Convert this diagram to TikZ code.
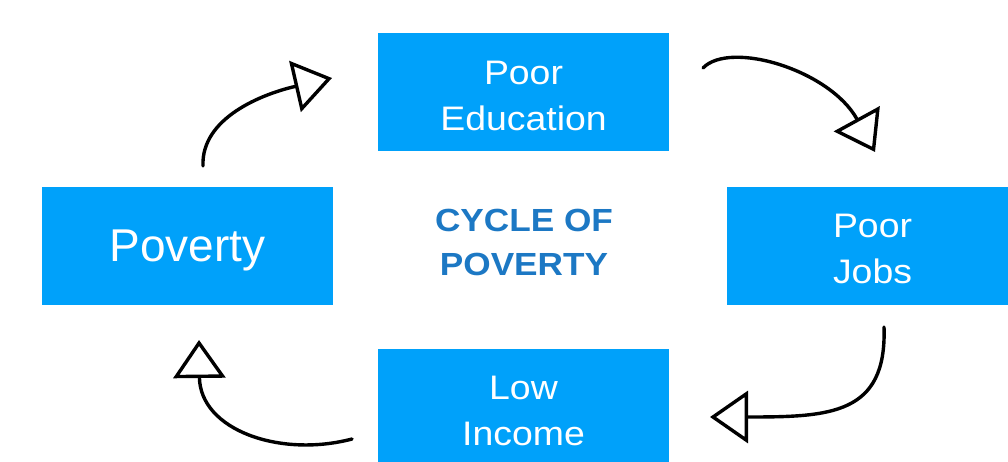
\documentclass[tikz,border=0pt]{standalone}
\usepackage{fontspec}
\setmainfont{Liberation Sans}
\newfontfamily\labelfont[FakeStretch=1.1]{Liberation Sans}
\newfontfamily\titlefont[FakeStretch=1.1]{Liberation Sans}
\usetikzlibrary{arrows.meta}
\definecolor{boxblue}{HTML}{00A1FA}
\definecolor{titleblue}{HTML}{1C78C4}
\begin{document}
\begin{tikzpicture}[x=1pt,y=-1pt,
  stagebox/.style={fill=boxblue, minimum width=291pt,
    minimum height=118pt, inner sep=0pt},
  stagetext/.style={text=white, inner sep=0pt, align=center,
    font=\labelfont\fontsize{34}{46}\selectfont},
  cycarrow/.style={line width=3.4pt, line cap=round,
    -{Triangle[open,length=38pt,width=52pt]}}]
\useasboundingbox (0,0) rectangle (1008,462);
\fill[white] (0,0) rectangle (1008,462);
\clip (0,0) rectangle (1008,462);

% the four stages
\node[stagebox] (edu) at (523.5,92.5) {};
\node[stagebox] (pov) at (187.5,246) {};
\node[stagebox] (jobs) at (872.5,246) {};
\node[stagebox] (inc) at (523.5,408) {};

\node[stagetext] (eduText) at ([yshift=-3pt]edu.center) {Poor\\Education};
\node[stagetext, font=\fontsize{46}{50}\selectfont, text depth=0pt] (povText) at (pov.center) {Poverty};
\node[stagetext] (jobsText) at ([yshift=-3pt]jobs.center) {Poor\\Jobs};
\node[stagetext] (incText) at ([yshift=-3pt]inc.center) {Low\\Income};

% title in the middle
\node[align=center, inner sep=0pt, text=titleblue,
  font=\titlefont\bfseries\fontsize{32}{44}\selectfont] (title) at (524,242) {CYCLE OF\\POVERTY};

% free ends of the curved arrows
\coordinate (povOut) at (203,166);
\coordinate (eduIn) at (332,78);
\coordinate (eduOut) at (703,68);
\coordinate (jobsIn) at (875,152);
\coordinate (jobsOut) at (884,327);
\coordinate (incIn) at (710,417);
\coordinate (incOut) at (352,439);
\coordinate (povIn) at (199,340);

\draw[cycarrow] (povOut) .. controls (201,118) and (262,94) .. (eduIn);
\draw[cycarrow] (eduOut) .. controls (730,40) and (830,70) .. (jobsIn);
\draw[cycarrow] (jobsOut) .. controls (887,415) and (830,417) .. (incIn);
\draw[cycarrow] (incOut) .. controls (280,458) and (200,430) .. (povIn);
\end{tikzpicture}
\end{document}
